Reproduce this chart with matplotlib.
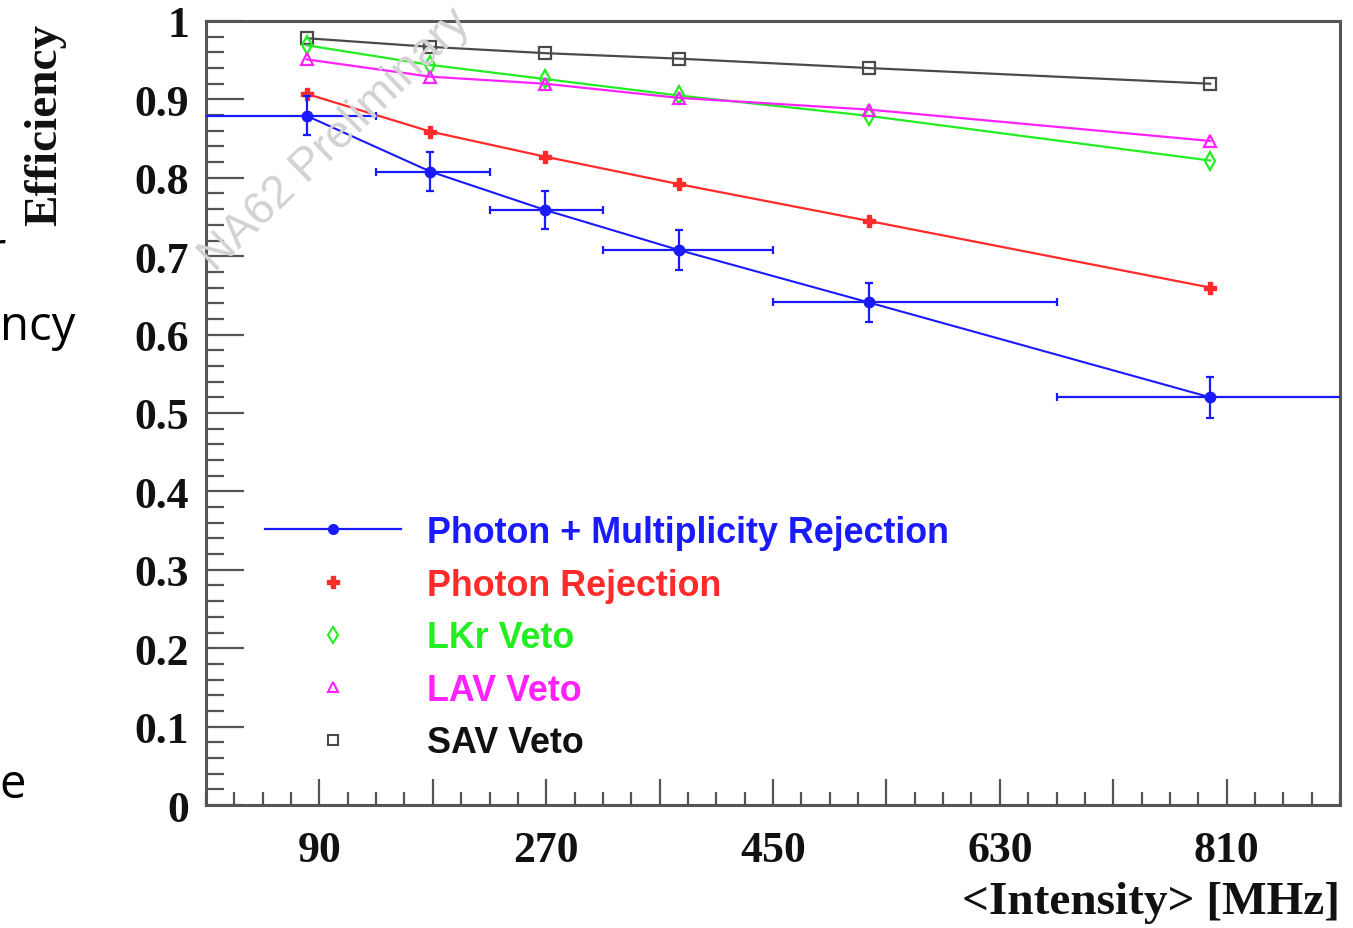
import matplotlib
matplotlib.use("Agg")
import matplotlib.pyplot as plt
from matplotlib.lines import Line2D
from matplotlib.ticker import FixedLocator, FixedFormatter, MultipleLocator

# ---- data -------------------------------------------------------------
intensity = [80, 178, 269, 375, 526, 797]          # mean intensity per bin [MHz]
bin_low = [-30, 135, 225, 315, 450, 675]            # intensity bin edges [MHz]
bin_high = [135, 225, 315, 450, 675, 1000]

eff_combined = [0.879, 0.808, 0.759, 0.708, 0.641, 0.520]
err_combined = [0.025, 0.025, 0.024, 0.025, 0.025, 0.026]
eff_photon = [0.907, 0.859, 0.827, 0.792, 0.745, 0.660]
eff_lkr = [0.969, 0.944, 0.926, 0.905, 0.879, 0.822]
eff_lav = [0.951, 0.929, 0.920, 0.902, 0.887, 0.847]
eff_sav = [0.978, 0.967, 0.959, 0.952, 0.940, 0.920]

series_labels = ["Photon + Multiplicity Rejection", "Photon Rejection",
                 "LKr Veto", "LAV Veto", "SAV Veto"]

x_ticks = [90, 180, 270, 360, 450, 540, 630, 720, 810]
x_tick_labels = ["90", "", "270", "", "450", "", "630", "", "810"]
y_ticks = [0.0, 0.1, 0.2, 0.3, 0.4, 0.5, 0.6, 0.7, 0.8, 0.9, 1.0]
y_tick_labels = ["0", "0.1", "0.2", "0.3", "0.4", "0.5", "0.6", "0.7",
                 "0.8", "0.9", "1"]

# ---- style ------------------------------------------------------------
BLUE = "#1a1aff"
RED = "#ff2b2b"
GREEN = "#22ee22"
MAGENTA = "#ff22ff"
DARK = "#4a4a4a"
FRAME = "#555555"
SERIF = "Liberation Serif"
SANS = "Liberation Sans"

W, H = 1353, 929
fig = plt.figure(figsize=(W / 100, H / 100), dpi=100)
ax = fig.add_axes([206 / W, 1 - 806 / H, (1340 - 206) / W, (806 - 22) / H])

# ---- series -----------------------------------------------------------
xerr = [[x - lo for x, lo in zip(intensity, bin_low)],
        [hi - x for x, hi in zip(intensity, bin_high)]]
ax.errorbar(intensity, eff_combined, yerr=err_combined, xerr=xerr,
            fmt="-o", color=BLUE, ms=7.5, lw=1.5, elinewidth=1.6,
            capsize=3, capthick=1.6, zorder=6)
ax.plot(intensity, eff_photon, "-P", color=RED, ms=9, lw=1.6, zorder=5)
ax.plot(intensity, eff_lkr, "-d", color=GREEN, ms=9, lw=1.6,
        mfc="none", mew=1.6, zorder=4)
ax.plot(intensity, eff_lav, "-^", color=MAGENTA, ms=8, lw=1.6,
        mfc="none", mew=1.6, zorder=4)
ax.plot(intensity, eff_sav, "-s", color=DARK, ms=8.5, lw=1.6,
        mfc="none", mew=1.6, zorder=3)

# ---- axes -------------------------------------------------------------
ax.set_xlim(0, 900)
ax.set_ylim(0, 1)
ax.xaxis.set_major_locator(FixedLocator(x_ticks))
ax.xaxis.set_major_formatter(FixedFormatter(x_tick_labels))
ax.xaxis.set_minor_locator(MultipleLocator(22.5))
ax.yaxis.set_major_locator(FixedLocator(y_ticks))
ax.yaxis.set_major_formatter(FixedFormatter(y_tick_labels))
ax.yaxis.set_minor_locator(MultipleLocator(0.02))

for sp in ax.spines.values():
    sp.set_color(FRAME)
    sp.set_linewidth(2.2)

ax.tick_params(axis="both", which="both", direction="in", color=FRAME,
               width=1.6, top=False, right=False)
ax.tick_params(axis="y", which="major", length=27, pad=12)
ax.tick_params(axis="y", which="minor", length=13)
ax.tick_params(axis="x", which="major", length=19, pad=18)
ax.tick_params(axis="x", which="minor", length=9.5)
for lab in ax.get_xticklabels() + ax.get_yticklabels():
    lab.set_fontfamily(SERIF)
    lab.set_fontweight("bold")
    lab.set_fontsize(31.5)
    lab.set_color("#111111")

fig.text(45 / W, 1 - 125 / H, "Efficiency", rotation=90, ha="center",
         va="center", fontfamily=SERIF, fontweight="bold", fontsize=34,
         color="#111111")
fig.text(1340 / W, 1 - 903 / H, "<Intensity> [MHz]", ha="right",
         va="center", fontfamily=SERIF, fontweight="bold", fontsize=34,
         color="#111111")

# watermark
fig.text(335 / W, 1 - 140 / H, "NA62 Preliminary", rotation=44,
         ha="center", va="center", fontfamily=SANS, fontsize=33,
         color="#d2d2d2", zorder=0.5)

# ---- legend -----------------------------------------------------------
handles = [
    Line2D([], [], color=BLUE, lw=1.6, marker="o", ms=7),
    Line2D([], [], ls="none", color=RED, marker="P", ms=8),
    Line2D([], [], ls="none", color=GREEN, marker="d", ms=8,
           mfc="none", mew=1.5),
    Line2D([], [], ls="none", color=MAGENTA, marker="^", ms=7,
           mfc="none", mew=1.5),
    Line2D([], [], ls="none", color=DARK, marker="s", ms=7,
           mfc="none", mew=1.5),
]
leg = ax.legend(handles, series_labels, loc="upper left",
                bbox_to_anchor=(265 / W, 1 - 516 / H),
                bbox_transform=fig.transFigure, frameon=False,
                borderpad=0, borderaxespad=0, handlelength=3.8,
                handletextpad=0.72, labelspacing=0.49,
                prop={"family": SANS, "weight": "bold", "size": 25.8},
                labelcolor=[BLUE, RED, GREEN, MAGENTA, "#111111"])

# slide text peeking in from the left margin
fig.text(6 / W, 1 - 266 / H, "r", ha="right", va="baseline",
         fontfamily="Open Sans", fontsize=34, color="black")
fig.text(75 / W, 1 - 340 / H, "ncy", ha="right", va="baseline",
         fontfamily="Open Sans", fontsize=34, color="black")
fig.text(26 / W, 1 - 798 / H, "e", ha="right", va="baseline",
         fontfamily="Open Sans", fontsize=34, color="black")

fig.savefig("out.png", dpi=100)
